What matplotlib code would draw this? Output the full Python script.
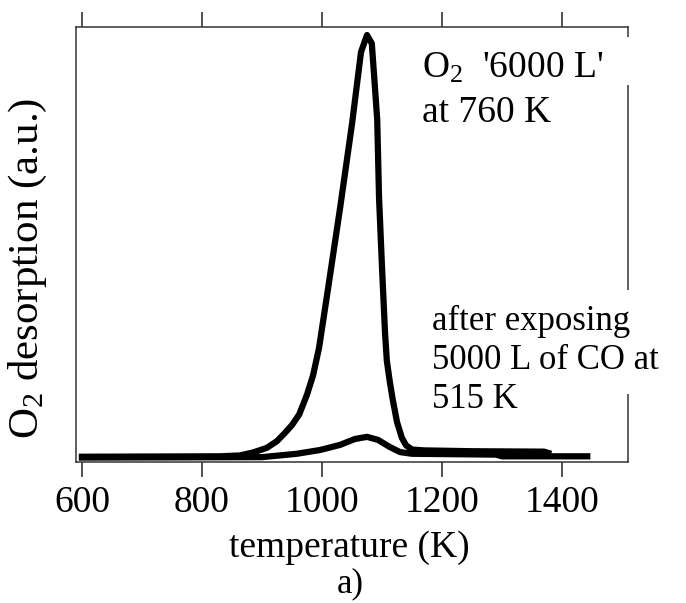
import matplotlib
matplotlib.use("Agg")
import matplotlib.pyplot as plt
from matplotlib.patches import Rectangle

plt.rcParams['font.family'] = ['Liberation Serif', 'DejaVu Serif']
plt.rcParams['mathtext.fontset'] = 'custom'
plt.rcParams['mathtext.rm'] = 'Liberation Serif'
plt.rcParams['mathtext.it'] = 'Liberation Serif:italic'

# O2 desorption after '6000 L' O2 at 760 K
temp_o2 = [600, 830, 863, 885, 908, 925, 938, 950, 962, 975, 985, 995, 1010,
           1030, 1050, 1065, 1075, 1083, 1092, 1095, 1100, 1105, 1108, 1113,
           1118, 1125, 1133, 1140, 1150, 1170, 1250, 1370, 1377]
sig_o2 = [0.003, 0.004, 0.006, 0.013, 0.024, 0.040, 0.059, 0.078, 0.103, 0.15,
          0.195, 0.26, 0.40, 0.59, 0.79, 0.96, 1.0, 0.98, 0.80, 0.617, 0.45,
          0.296, 0.23, 0.18, 0.137, 0.085, 0.048, 0.030, 0.020, 0.018, 0.016,
          0.015, 0.012]

# O2 desorption after exposing 5000 L CO at 515 K
temp_co = [600, 900, 958, 997, 1030, 1055, 1075, 1093, 1113, 1130, 1150, 1290,
           1300, 1442]
sig_co = [0.001, 0.002, 0.01, 0.019, 0.031, 0.045, 0.05, 0.043, 0.026, 0.014,
          0.01, 0.008, 0.004, 0.004]

xticks = [600, 800, 1000, 1200, 1400]

fig = plt.figure(figsize=(6.86, 6.03), dpi=100)
ax = fig.add_axes([0.1108, 0.2338, 0.8047, 0.7214])

ax.plot(temp_o2, sig_o2, color='black', lw=4.5, solid_joinstyle='round')
ax.plot(temp_co, sig_co, color='black', lw=4.5, solid_joinstyle='round')

ax.set_xlim(590, 1510)
ax.set_ylim(-0.0095, 1.019)
ax.set_xticks(xticks)
ax.set_yticks([])
ax.tick_params(axis='x', which='both', direction='out', length=10.5, width=1.1,
               top=True, bottom=True, labeltop=False, labelsize=27, pad=6.5,
               color='#222222')
for s in ax.spines.values():
    s.set_linewidth(1.1)
    s.set_color('#333333')

ax.set_xlabel('temperature (K)', fontsize=27)
ax.xaxis.label.set_va('baseline')
ax.xaxis.set_label_coords(0.495, -0.2184)

ax.set_ylabel('O$_\\mathrm{2}$ desorption (a.u.)', fontsize=31)
ax.yaxis.label.set_va('center')
ax.yaxis.set_label_coords(-0.087, 0.446)

fig.text(0.510, 0.017, 'a)', fontsize=25, ha='center', va='baseline')

# white gaps in the right frame behind the annotations
ax.add_patch(Rectangle((0.97, 0.867), 0.06, 0.11, transform=ax.transAxes,
                       facecolor='white', edgecolor='none', clip_on=False, zorder=2.6))
ax.add_patch(Rectangle((0.97, 0.156), 0.06, 0.24, transform=ax.transAxes,
                       facecolor='white', edgecolor='none', clip_on=False, zorder=2.6))

tx1 = (422 - 76) / 552
ax.text(tx1, 0.883, "O$_\\mathrm{2}$  '6000 L'", transform=ax.transAxes,
        fontsize=27, va='baseline', ha='left', zorder=3)
ax.text(tx1, 0.782, 'at 760 K', transform=ax.transAxes,
        fontsize=27, va='baseline', ha='left', zorder=3)

tx2 = (432 - 76) / 552
for yy, line in zip([0.303, 0.214, 0.124],
                    ['after exposing', '5000 L of CO at', '515 K']):
    ax.text(tx2, yy, line, transform=ax.transAxes, fontsize=25,
            va='baseline', ha='left', zorder=3)

fig.savefig('out.png', dpi=100)
